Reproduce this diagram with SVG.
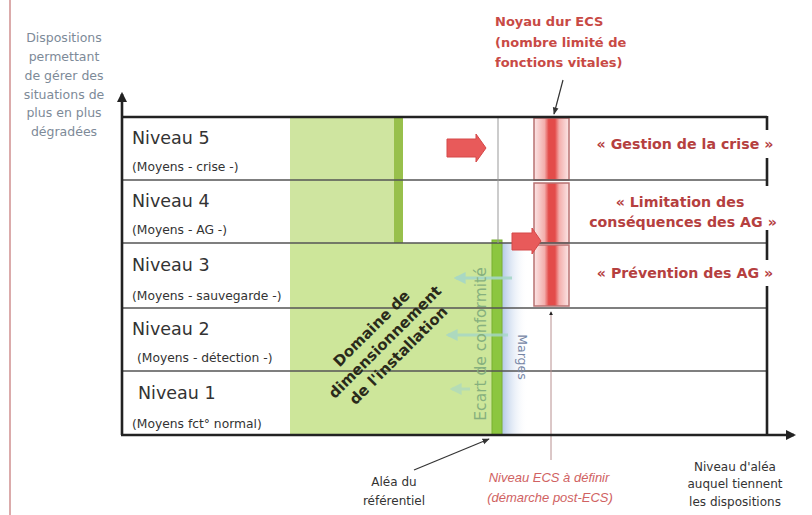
<svg xmlns="http://www.w3.org/2000/svg" width="812" height="515" viewBox="0 0 812 515">
<style>
.ylab{font-family:"DejaVu Sans",sans-serif;font-size:12.5px;fill:#7d8a98;text-anchor:middle}
.niv{font-family:"DejaVu Sans",sans-serif;font-size:17.5px;fill:#333}
.sub{font-family:"DejaVu Sans",sans-serif;font-size:12.3px;fill:#333}
.red{font-family:"DejaVu Sans",sans-serif;font-weight:bold;font-size:14.2px;fill:#b5403f;text-anchor:middle}
.note{font-family:"DejaVu Sans",sans-serif;font-weight:bold;font-size:13px;fill:#c84a45}
.bot{font-family:"DejaVu Sans",sans-serif;font-size:12px;fill:#333;text-anchor:middle}
.ecs{font-family:"Liberation Sans",sans-serif;font-style:italic;font-size:13px;fill:#d06262;text-anchor:middle}
.row{stroke:#555;stroke-width:1.3;fill:none}
.frame{stroke:#222;stroke-width:2.6;fill:none}
.thin{stroke:#999;stroke-width:1;fill:none}
.ptr{stroke:#333;stroke-width:1.2;fill:none;marker-end:url(#ah)}
.teal{stroke:#a6d7c8;stroke-width:3;fill:none;marker-end:url(#tah)}
.ecsbox{fill:url(#ecsg);stroke:#b87272;stroke-width:1.5}
.rarrow{fill:#e85a5a;stroke:#d54848;stroke-width:1}
</style>
<defs>
<marker id="ah" viewBox="0 0 10 10" refX="9" refY="5" markerWidth="6" markerHeight="6" orient="auto"><path d="M0,1 L10,5 L0,9 z" fill="#333"/></marker>
<marker id="axh" viewBox="0 0 10 10" refX="8" refY="5" markerWidth="4" markerHeight="4" orient="auto"><path d="M0,0 L10,5 L0,10 z" fill="#222"/></marker>
<marker id="tah" viewBox="0 0 10 10" refX="8" refY="5" markerWidth="4" markerHeight="4" orient="auto"><path d="M0,0 L10,5 L0,10 z" fill="#a6d7c8"/></marker>
<linearGradient id="ecsg" x1="0" x2="1" y1="0" y2="0">
<stop offset="0" stop-color="#fbe6e6"/><stop offset="0.3" stop-color="#f3aeac"/><stop offset="0.42" stop-color="#e34c4a"/><stop offset="0.6" stop-color="#e34c4a"/><stop offset="0.72" stop-color="#f3aeac"/><stop offset="1" stop-color="#fbe6e6"/>
</linearGradient>
<linearGradient id="blueg" x1="0" x2="1" y1="0" y2="0">
<stop offset="0" stop-color="#b3c8e6"/><stop offset="1" stop-color="#ffffff" stop-opacity="0"/>
</linearGradient>
</defs>
<rect width="812" height="515" fill="#fff"/>
<line x1="10" y1="0" x2="10" y2="515" stroke="#cf8f8f" stroke-width="1.5"/>

<g id="y-axis-label">
<text class="ylab" x="64" y="42">Dispositions</text>
<text class="ylab" x="64" y="61">permettant</text>
<text class="ylab" x="64" y="80">de gérer des</text>
<text class="ylab" x="64" y="99">situations de</text>
<text class="ylab" x="64" y="117">plus en plus</text>
<text class="ylab" x="64" y="136">dégradées</text>
</g>

<g id="green-domain">
<rect x="290" y="117" width="105" height="126" fill="#cfe5a0"/>
<rect x="394" y="117" width="9" height="126" fill="#98c04c"/>
<rect x="290" y="243" width="203" height="192" fill="#cde69a"/>
<rect x="502" y="243" width="26" height="192" fill="url(#blueg)"/>
<rect x="492" y="240" width="10" height="195" fill="#8cc63f" stroke="#78b030" stroke-width="1"/>
</g>

<g id="ecs-core">
<rect class="ecsbox" x="534" y="118" width="35" height="62"/>
<rect class="ecsbox" x="534" y="183" width="35" height="60"/>
<rect class="ecsbox" x="534" y="245" width="35" height="61"/>
</g>

<g id="connectors">
<line class="row" x1="122" y1="180" x2="767" y2="180"/>
<line class="row" x1="122" y1="243" x2="767" y2="243"/>
<line class="row" x1="122" y1="308" x2="767" y2="308"/>
<line class="row" x1="122" y1="371" x2="767" y2="371"/>
<line class="thin" x1="498" y1="117" x2="498" y2="243"/>
<line x1="551" y1="460" x2="551" y2="312" stroke="#b89090" stroke-width="1" marker-end="url(#axh)"/>
<line class="frame" x1="122" y1="117" x2="767" y2="117"/>
<line class="frame" x1="767" y1="116" x2="767" y2="435"/>
<line class="frame" x1="122" y1="435" x2="122" y2="94" marker-end="url(#axh)"/>
<line class="frame" x1="121" y1="435" x2="794" y2="435" marker-end="url(#axh)"/>
<line class="ptr" x1="563" y1="80" x2="554" y2="114"/>
<line class="ptr" x1="414" y1="470" x2="489" y2="439"/>
<line class="teal" x1="512" y1="278" x2="456" y2="278" opacity="0.9"/>
<line class="teal" x1="508" y1="335" x2="448" y2="335" opacity="0.8"/>
<line class="teal" x1="470" y1="389" x2="452" y2="389" opacity="0.6"/>
<polygon class="rarrow" points="447,139 476,139 476,134 486,148 476,162 476,157 447,157"/>
<polygon class="rarrow" points="512,233 532,233 532,228 541,241 532,254 532,250 512,250"/>
</g>

<g id="niveau5">
<text class="niv" x="132" y="144">Niveau 5</text>
<text class="sub" x="132" y="171">(Moyens - crise -)</text>
</g>
<g id="niveau4">
<text class="niv" x="132" y="207">Niveau 4</text>
<text class="sub" x="132" y="234">(Moyens - AG -)</text>
</g>
<g id="niveau3">
<text class="niv" x="132" y="271">Niveau 3</text>
<text class="sub" x="132" y="300">(Moyens - sauvegarde -)</text>
</g>
<g id="niveau2">
<text class="niv" x="132" y="335">Niveau 2</text>
<text class="sub" x="137" y="362">(Moyens - détection -)</text>
</g>
<g id="niveau1">
<text class="niv" x="138" y="399">Niveau 1</text>
<text class="sub" x="132" y="428">(Moyens fct° normal)</text>
</g>

<g id="domaine-label">
<g transform="translate(385,342) rotate(-45)" font-family="DejaVu Sans, sans-serif" font-weight="bold" font-size="15" fill="#2a2a1a" text-anchor="middle">
<text x="0" y="-14">Domaine de</text>
<text x="0" y="5">dimensionnement</text>
<text x="0" y="24">de l'installation</text>
</g>
</g>

<g id="ecart-label">
<text transform="translate(486,344) rotate(-90)" font-family="DejaVu Sans, sans-serif" font-size="15.5" fill="#86b07e" text-anchor="middle">Ecart de conformité</text>
</g>
<g id="marges-label">
<text transform="translate(518,357) rotate(90)" font-family="DejaVu Sans, sans-serif" font-size="12.5" fill="#7585a5" text-anchor="middle">Marges</text>
</g>

<g id="noyau-dur">
<text class="note" x="495" y="26">Noyau dur ECS</text>
<text class="note" x="495" y="47">(nombre limité de</text>
<text class="note" x="495" y="67">fonctions vitales)</text>
</g>

<g id="gestion-crise">
<rect x="584" y="130" width="200" height="28" fill="#fff"/>
<text class="red" x="685" y="149">« Gestion de la crise »</text>
</g>
<g id="limitation">
<rect x="584" y="186" width="200" height="44" fill="#fff"/>
<text class="red" x="680" y="207">« Limitation des</text>
<text class="red" x="683" y="227">conséquences des AG »</text>
</g>
<g id="prevention">
<rect x="584" y="260" width="200" height="26" fill="#fff"/>
<text class="red" x="685" y="278">« Prévention des AG »</text>
</g>

<g id="alea-referentiel">
<text class="bot" x="394" y="486">Aléa du</text>
<text class="bot" x="394" y="505">référentiel</text>
</g>
<g id="niveau-ecs">
<text class="ecs" x="549" y="482">Niveau ECS à définir</text>
<text class="ecs" x="550" y="502">(démarche post-ECS)</text>
</g>
<g id="x-axis-label">
<text class="bot" x="735" y="471">Niveau d'aléa</text>
<text class="bot" x="735" y="488">auquel tiennent</text>
<text class="bot" x="735" y="506">les dispositions</text>
</g>
</svg>
